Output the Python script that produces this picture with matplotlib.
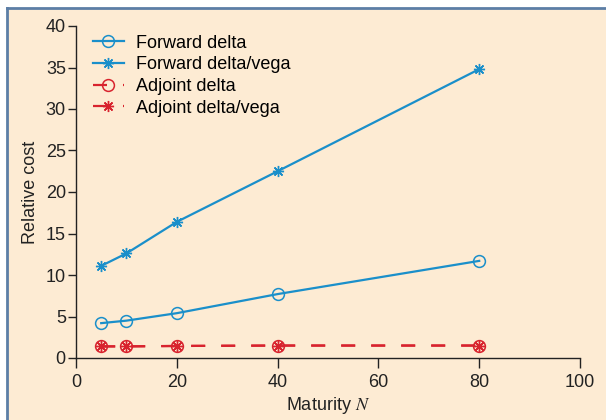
import matplotlib
matplotlib.use("Agg")
import matplotlib.pyplot as plt
from matplotlib.lines import Line2D
from matplotlib.patches import Rectangle

# ---------------------------------------------------------------------------
# Data
# ---------------------------------------------------------------------------

maturity = [5, 10, 20, 40, 80]
forward_delta = [4.2, 4.5, 5.4, 7.7, 11.7]
forward_delta_vega = [11.1, 12.6, 16.4, 22.5, 34.8]
adjoint_delta = [1.4, 1.4, 1.45, 1.5, 1.5]
adjoint_delta_vega = [1.4, 1.4, 1.45, 1.5, 1.5]

xticks = [0, 20, 40, 60, 80, 100]
yticks = [0, 5, 10, 15, 20, 25, 30, 35, 40]

BLUE = "#1a8fca"
RED = "#d8232e"
BG = "#fdebd3"
FRAME = "#5c7ea6"
INK = "#222222"

plt.rcParams["font.family"] = ["Liberation Sans", "DejaVu Sans"]
plt.rcParams["mathtext.fontset"] = "stix"

fig = plt.figure(figsize=(6.06, 4.2), dpi=100, facecolor="white")

# panel background with a frame on the top and left edges (kept behind the axes)
x0, y1 = 7 / 606, 1 - 8 / 420
fig.patches.append(Rectangle((x0, 0), 1 - x0, y1, transform=fig.transFigure,
                             facecolor=BG, edgecolor="none", zorder=-2))
fig.lines.append(Line2D([x0, 1], [y1, y1], transform=fig.transFigure,
                        color=FRAME, lw=2.0, zorder=-1))
fig.lines.append(Line2D([x0, x0], [0, y1], transform=fig.transFigure,
                        color=FRAME, lw=2.0, zorder=-1))

ax = fig.add_axes([76 / 606, 1 - 358 / 420, 504 / 606, 332 / 420])
ax.set_facecolor("none")

star = (8, 2, 0)
dash = (0, (6.3, 7.2))

ax.plot(maturity, forward_delta, color=BLUE, lw=1.6, marker="o", ms=8.5,
        mfc="none", mec=BLUE, mew=1.1, label="Forward delta")
ax.plot(maturity, forward_delta_vega, color=BLUE, lw=1.6, marker=star, ms=8,
        mec=BLUE, mew=1.0, label="Forward delta/vega")
ax.plot(maturity, adjoint_delta, color=RED, lw=1.6, ls=dash, marker="o", ms=8.5,
        mfc="none", mec=RED, mew=1.1, label="Adjoint delta")
ax.plot(maturity, adjoint_delta_vega, color=RED, lw=1.6, ls=dash, marker=star, ms=8,
        mec=RED, mew=1.0, label="Adjoint delta/vega")

ax.set_xlim(0, 100)
ax.set_ylim(0, 40)
ax.set_xticks(xticks)
ax.set_yticks(yticks)
ax.spines["top"].set_visible(False)
ax.spines["right"].set_visible(False)
for side in ("left", "bottom"):
    ax.spines[side].set_color(INK)
    ax.spines[side].set_linewidth(1.0)
ax.tick_params(direction="out", width=1.0, colors=INK, labelsize=13)
ax.tick_params(axis="x", length=7.2, pad=4)
ax.tick_params(axis="y", length=5.8, pad=1.5)

ax.set_xlabel("Maturity $N$", fontsize=13, color=INK, labelpad=3)
ax.set_ylabel("Relative cost", fontsize=13, color=INK, labelpad=5)

ax.legend(loc="upper left", bbox_to_anchor=(0.008, 1.012), frameon=False,
          fontsize=13, handlelength=1.75, handletextpad=0.65,
          labelspacing=0.26, borderaxespad=0.3)

fig.savefig("out.png", dpi=100, facecolor=fig.get_facecolor())
